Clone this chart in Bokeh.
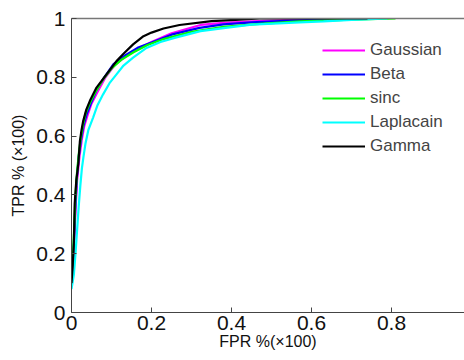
from bokeh.plotting import figure
from bokeh.models import FixedTicker, Legend, LegendItem, Range1d, LinearAxis
from bokeh.embed import file_html
from bokeh.resources import INLINE

# ---- data ----
gauss_fpr = [0, 0.006, 0.01, 0.014, 0.02, 0.026, 0.032, 0.04, 0.05, 0.065, 0.085, 0.11, 0.14, 0.17, 0.2, 0.25, 0.3225, 0.38, 0.45, 0.55, 0.65, 0.745]
gauss_tpr = [0.09, 0.22, 0.35, 0.45, 0.53, 0.59, 0.635, 0.67, 0.71, 0.75, 0.80, 0.845, 0.875, 0.90, 0.92, 0.95, 0.978, 0.985, 0.99, 0.995, 0.998, 1.0]

beta_fpr = [0, 0.005, 0.009, 0.013, 0.018, 0.024, 0.03, 0.038, 0.048, 0.062, 0.082, 0.105, 0.135, 0.165, 0.2, 0.25, 0.32, 0.38, 0.45, 0.55, 0.65, 0.74]
beta_tpr = [0.09, 0.2, 0.34, 0.45, 0.53, 0.59, 0.635, 0.675, 0.71, 0.755, 0.80, 0.845, 0.875, 0.90, 0.918, 0.945, 0.968, 0.98, 0.987, 0.993, 0.997, 1.0]

sinc_fpr = [0, 0.004, 0.007, 0.01, 0.014, 0.019, 0.024, 0.029, 0.036, 0.045, 0.06, 0.08, 0.1, 0.125, 0.155, 0.19, 0.23, 0.3, 0.38, 0.47, 0.57, 0.7, 0.81]
sinc_tpr = [0.11, 0.2, 0.3, 0.4, 0.48, 0.55, 0.6, 0.64, 0.68, 0.71, 0.75, 0.795, 0.83, 0.86, 0.885, 0.91, 0.93, 0.955, 0.972, 0.982, 0.99, 0.996, 1.0]

lap_fpr = [0, 0.006, 0.01, 0.014, 0.018, 0.022, 0.026, 0.03, 0.035, 0.042, 0.054, 0.065, 0.079, 0.095, 0.1125, 0.13, 0.154, 0.1875, 0.2225, 0.26, 0.3225, 0.39, 0.45, 0.57, 0.63, 0.7, 0.79]
lap_tpr = [0.08, 0.13, 0.2, 0.28, 0.36, 0.43, 0.49, 0.53, 0.575, 0.62, 0.663, 0.705, 0.742, 0.78, 0.81, 0.84, 0.867, 0.9, 0.92, 0.935, 0.957, 0.969, 0.979, 0.987, 0.99, 0.995, 1.0]

gamma_fpr = [0, 0.003, 0.006, 0.008, 0.012, 0.017, 0.021, 0.025, 0.029, 0.037, 0.046, 0.0625, 0.0875, 0.1125, 0.13, 0.154, 0.18, 0.2, 0.23, 0.27, 0.35, 0.41, 0.47, 0.74]
gamma_tpr = [0.10, 0.16, 0.24, 0.37, 0.45, 0.505, 0.583, 0.62, 0.65, 0.69, 0.72, 0.765, 0.81, 0.855, 0.88, 0.912, 0.94, 0.952, 0.966, 0.978, 0.991, 0.995, 1.0, 1.0]

series_names = ["Gaussian", "Beta", "sinc", "Laplacain", "Gamma"]
series_colors = ["#ff00ff", "#0000ff", "#00ff00", "#00ffff", "#000000"]
x_ticks = [0, 0.2, 0.4, 0.6, 0.8, 1.0]
y_ticks = [0, 0.2, 0.4, 0.6, 0.8, 1.0]
x_title = "FPR %(×100)"
y_title = "TPR % (×100)"

p = figure(width=464, height=360, output_backend="svg", toolbar_location=None,
           x_range=Range1d(0, 0.9825), y_range=Range1d(0, 1))
p.min_border_left = 71
p.min_border_right = 0
p.min_border_top = 18
p.min_border_bottom = 48
p.grid.visible = False
p.outline_line_color = None
p.background_fill_color = "white"
p.border_fill_color = "white"

for ax in (p.xaxis[0], p.yaxis[0]):
    ax.major_tick_in = 5
    ax.major_tick_out = 0
    ax.minor_tick_line_color = None
    ax.axis_line_color = "#444444"
    ax.major_tick_line_color = "#444444"
    ax.major_label_text_font = "Liberation Sans"
    ax.major_label_text_font_size = "21px"
    ax.major_label_text_color = "#111111"
    ax.axis_label_text_font = "Liberation Sans"
    ax.axis_label_text_font_size = "16px"
    ax.axis_label_text_font_style = "normal"
    ax.axis_label_text_color = "#111111"

p.xaxis[0].ticker = FixedTicker(ticks=x_ticks)
p.yaxis[0].ticker = FixedTicker(ticks=y_ticks)
p.xaxis[0].major_label_overrides = {0: "0", 0.2: "0.2", 0.4: "0.4", 0.6: "0.6", 0.8: "0.8", 1.0: "1"}
p.yaxis[0].major_label_overrides = {0: "0", 0.2: "0.2", 0.4: "0.4", 0.6: "0.6", 0.8: "0.8", 1.0: "1"}
p.xaxis[0].major_label_standoff = 3
p.yaxis[0].major_label_standoff = 6
p.xaxis[0].axis_label = x_title
p.yaxis[0].axis_label = y_title
p.xaxis[0].axis_label_standoff = 0
p.yaxis[0].axis_label_standoff = 6

# top frame line (the right side of the frame is outside the visible page)
top = LinearAxis(ticker=FixedTicker(ticks=[]), axis_line_color="#777777",
                 axis_line_width=1.5, major_tick_line_color=None,
                 minor_tick_line_color=None, major_label_text_font_size="0px")
p.add_layout(top, "above")

data = [(gauss_fpr, gauss_tpr), (beta_fpr, beta_tpr), (sinc_fpr, sinc_tpr),
        (lap_fpr, lap_tpr), (gamma_fpr, gamma_tpr)]
items = []
for (fx, ty), name, col in zip(data, series_names, series_colors):
    r = p.line(fx, ty, line_color=col, line_width=2.2)
    items.append(LegendItem(label=name, renderers=[r]))

legend = Legend(items=items, location=(251, 156), border_line_color=None,
                background_fill_alpha=0, padding=0, margin=0, spacing=4,
                glyph_width=43, glyph_height=20, label_height=20, label_standoff=5,
                label_text_font="Liberation Sans", label_text_font_size="17px")
p.add_layout(legend, "center")

open("out.html", "w").write(file_html(p, INLINE))
